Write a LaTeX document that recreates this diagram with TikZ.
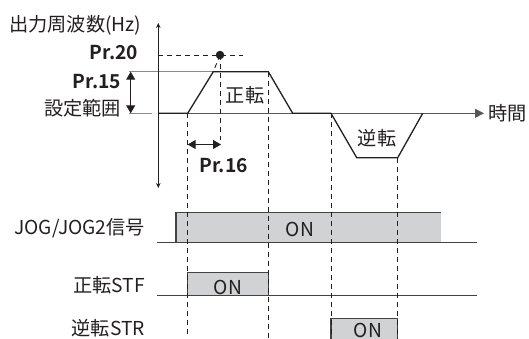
\documentclass[tikz,border=0pt]{standalone}
\usepackage{fontspec}
\setmainfont{Noto Sans CJK JP}[BoldFont={Noto Sans CJK JP Bold}]
\usetikzlibrary{arrows.meta}
\definecolor{ink}{HTML}{231F20}
\definecolor{barfill}{HTML}{D1D2D4}
\definecolor{refgray}{HTML}{8A8A8A}
\begin{document}
\begin{tikzpicture}[x=1pt,y=-1pt,
  txt/.style={font=\fontsize{19.2}{21}\selectfont, text=ink, inner sep=0pt},
  btxt/.style={font=\fontsize{19.2}{21}\selectfont\bfseries, text=ink, inner sep=0pt},
  wave/.style={draw=ink, line width=1.3pt, line join=miter},
  refline/.style={draw=refgray, line width=1pt},
  axisline/.style={draw=ink, line width=0.9pt},
  dsh/.style={draw=ink, line width=0.9pt, dash pattern=on 5pt off 4pt},
  barbox/.style={fill=barfill, draw=none},
  barline/.style={draw=ink!85, line width=1.1pt},
  sigbase/.style={draw=ink!85, line width=1.1pt},
  smallarrow/.style={-{Stealth[length=5pt,width=4.5pt]}},
  dblarrow/.style={{Triangle[length=8pt,width=9pt]}-{Triangle[length=8pt,width=9pt]}}
]
\useasboundingbox (0,0) rectangle (529,338);
\clip (0,0) rectangle (529,338);

% ---- coordinates
\coordinate (axtop) at (158.3,23);
\coordinate (axbot) at (158.3,188);
\coordinate (o) at (158.3,113.3);
\coordinate (t0) at (187.7,113.3);
\coordinate (t1) at (213.3,71.7);
\coordinate (t2) at (268.3,71.7);
\coordinate (t3) at (292.7,113.3);
\coordinate (t4) at (331,113.3);
\coordinate (t5) at (356.7,157.7);
\coordinate (t6) at (397.7,157.7);
\coordinate (t7) at (422.7,113.3);
\coordinate (tend) at (484,113.3);
\coordinate (p20a) at (158.3,55);
\coordinate (p20b) at (243,55);
\coordinate (topref) at (129,71.7);
\coordinate (baseref) at (129,113.3);
\coordinate (baserefend) at (152,113.3);
\coordinate (a15top) at (130.7,71.7);
\coordinate (a15bot) at (130.7,113.3);
\coordinate (a16l) at (187.7,144.5);
\coordinate (a16r) at (221,144.5);

% ---- reference lines
\draw[refline] (topref) -- (t1);
\draw[refline] (baseref) -- (baserefend);
\draw[refline, draw=ink!75, -{Triangle[length=9pt,width=9pt]}] (o) -- (tend);

% ---- axis
\draw[axisline, smallarrow] (o) -- (axtop);
\draw[axisline, smallarrow] (o) -- (axbot);

% ---- waveform
\draw[wave] (o) -- (t0) -- (t1) -- (t2) -- (t3) -- (t4) -- (t5) -- (t6) -- (t7);

% ---- Pr.20 dashed + dot
\draw[dsh] (p20a) -- (p20b);
\node[circle, fill=ink, inner sep=0pt, minimum size=8.5pt] (dot) at (220,55) {};
\draw[dsh] (dot.center) -- (t1);

% ---- Pr.15 double arrow
\draw[draw=ink, line width=1pt, dblarrow] (a15top) -- (a15bot);

% ---- Pr.16 double arrow
\draw[draw=ink, line width=1pt, dblarrow] (a16l) -- (a16r);

% ---- signal bars
\coordinate (jogA) at (176,242.3);
\coordinate (jogB) at (176,212.3);
\coordinate (jogC) at (440.7,212.3);
\coordinate (jogD) at (440.7,242.3);
\fill[barfill] (jogA) rectangle (jogC);
\draw[barline] (jogA) -- (jogB) -- (jogC);
\coordinate (jogbase0) at (157.3,242.3);
\coordinate (jogbase1) at (477,242.3);
\draw[sigbase] (jogbase0) -- (jogbase1);

\coordinate (stfA) at (187.7,295.7);
\coordinate (stfB) at (187.7,272.7);
\coordinate (stfC) at (268.3,272.7);
\coordinate (stfD) at (268.3,295.7);
\fill[barfill] (stfA) rectangle (stfC);
\draw[barline] (stfA) -- (stfB) -- (stfC) -- (stfD);
\coordinate (stfbase0) at (157.3,295.7);
\coordinate (stfbase1) at (477,295.7);
\draw[sigbase] (stfbase0) -- (stfbase1);

\coordinate (strA) at (331,345);
\coordinate (strB) at (331,318.3);
\coordinate (strC) at (397.7,318.3);
\coordinate (strD) at (397.7,345);
\fill[barfill] (strA) rectangle (strC);
\draw[barline] (strA) -- (strB) -- (strC) -- (strD);

% ---- dashed verticals
\coordinate (v0b) at (187.7,338);
\coordinate (v2b) at (268.3,338);
\coordinate (v4b) at (331,338);
\coordinate (v6b) at (397.7,338);
\coordinate (vdb) at (220,140);
\draw[dsh] (t0) -- (v0b);
\draw[dsh] (t2) -- (v2b);
\draw[dsh] (t4) -- (v4b);
\draw[dsh] (t6) -- (v6b);
\draw[dsh] (dot.center) -- (vdb);

% ---- texts
\node[txt, anchor=west] (ylab) at (9,25) {出力周波数(Hz)};
\node[btxt, anchor=east] (pr20) at (138.5,53) {Pr.20};
\node[btxt, anchor=east] (pr15) at (121.5,82) {Pr.15};
\node[txt, anchor=east] (range) at (121,108) {設定範囲};
\node[txt] (fwd) at (245,95) {正転};
\node[txt] (rev) at (377,138) {逆転};
\node[btxt] (pr16) at (223.5,166) {Pr.16};
\node[txt, anchor=west] (time) at (488,113) {時間};
\node[txt, anchor=east] (joglab) at (145,228) {JOG/JOG2信号};
\node[txt] (jogon) at (300,229) {ON};
\node[txt, anchor=east] (stflab) at (145,285) {正転STF};
\node[txt] (stfon) at (228,287) {ON};
\node[txt, anchor=east] (strlab) at (145,328) {逆転STR};
\node[txt] (stron) at (368,330.5) {ON};
\end{tikzpicture}
\end{document}
